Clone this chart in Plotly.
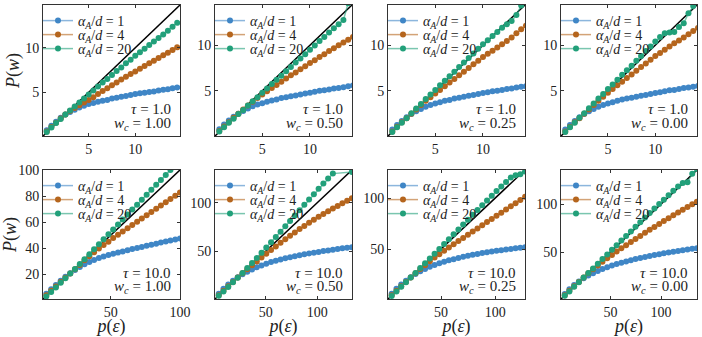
import plotly.graph_objects as go

# p(eps) grids
p_top = [0.5, 1.0, 1.5, 2.0, 2.5, 3.0, 3.5, 4.0, 4.5, 5.0, 5.5, 6.0, 6.5, 7.0, 7.5,
         8.0, 8.5, 9.0, 9.5, 10.0, 10.5, 11.0, 11.5, 12.0, 12.5, 13.0, 13.5, 14.0, 14.5]
p_b1 = [3.4, 6.9, 10.3, 13.8, 17.2, 20.7, 24.1, 27.6, 31.0, 34.5, 37.9, 41.4, 44.8, 48.3, 51.7,
        55.2, 58.6, 62.1, 65.5, 69.0, 72.4, 75.9, 79.3, 82.8, 86.2, 89.7, 93.1, 96.6, 100.0]
p_b2 = [4.6, 9.2, 13.8, 18.4, 23.0, 27.6, 32.2, 36.8, 41.4, 46.0, 50.6, 55.2, 59.8, 64.4, 69.0,
        73.6, 78.2, 82.8, 87.4, 92.0, 96.6, 101.2, 105.8, 110.4, 115.0, 119.6, 124.2, 128.8, 133.4]
p_b3 = [4.4, 8.8, 13.2, 17.6, 22.0, 26.4, 30.8, 35.2, 39.6, 44.0, 48.4, 52.8, 57.2, 61.6, 66.0,
        70.4, 74.8, 79.2, 83.6, 88.0, 92.4, 96.8, 101.2, 105.6, 110.0, 114.4, 118.8, 123.2, 127.6]
p_b4 = [4.7, 9.3, 14.0, 18.7, 23.4, 28.0, 32.7, 37.4, 42.0, 46.7, 51.4, 56.0, 60.7, 65.4, 70.1,
        74.7, 79.4, 84.1, 88.7, 93.4, 98.1, 102.7, 107.4, 112.1, 116.8, 121.4, 126.1, 130.8, 135.4]

# tau = 1.0
t1_a1 = [0.75, 1.25, 1.7, 2.15, 2.5, 2.8, 3.05, 3.3, 3.5, 3.7, 3.8, 3.95, 4.05, 4.15, 4.3,
         4.4, 4.5, 4.6, 4.7, 4.8, 4.9, 4.95, 5.05, 5.1, 5.2, 5.3, 5.35, 5.45, 5.55]
t1_a4 = [0.6, 1.1, 1.6, 2.05, 2.5, 2.9, 3.25, 3.55, 3.85, 4.15, 4.45, 4.8, 5.15, 5.45, 5.8,
         6.1, 6.45, 6.75, 7.05, 7.35, 7.65, 7.95, 8.25, 8.55, 8.85, 9.15, 9.45, 9.75, 10.05]
t1_a20 = [0.55, 1.05, 1.55, 2.0, 2.5, 2.95, 3.4, 3.85, 4.3, 4.75, 5.2, 5.65, 6.1, 6.5, 6.95,
          7.4, 7.8, 8.25, 8.65, 9.1, 9.5, 9.9, 10.3, 10.7, 11.1, 11.5, 11.9, 12.35, 12.8]

t2_a1 = [0.8, 1.3, 1.75, 2.15, 2.5, 2.8, 3.05, 3.3, 3.5, 3.65, 3.8, 3.95, 4.05, 4.2, 4.3,
         4.4, 4.5, 4.6, 4.7, 4.8, 4.9, 5.0, 5.05, 5.15, 5.25, 5.3, 5.4, 5.5, 5.6]
t2_a4 = [0.6, 1.1, 1.55, 2.05, 2.5, 2.95, 3.4, 3.8, 4.2, 4.6, 4.95, 5.3, 5.65, 6.0, 6.35,
         6.7, 7.0, 7.35, 7.7, 8.05, 8.35, 8.7, 9.0, 9.35, 9.65, 10.0, 10.3, 10.6, 10.9]
t2_a20 = [0.55, 1.0, 1.5, 1.95, 2.45, 2.9, 3.4, 3.85, 4.3, 4.8, 5.25, 5.75, 6.2, 6.65, 7.15,
          7.6, 8.1, 8.55, 9.0, 9.5, 9.95, 10.45, 10.9, 11.4, 11.85, 12.3, 12.75, 14.6, 15.0]

t3_a1 = [0.75, 1.25, 1.7, 2.1, 2.45, 2.75, 3.0, 3.25, 3.45, 3.6, 3.75, 3.9, 4.0, 4.15, 4.25,
         4.35, 4.45, 4.55, 4.65, 4.75, 4.85, 4.95, 5.0, 5.1, 5.2, 5.25, 5.35, 5.45, 5.5]
t3_a4 = [0.55, 1.05, 1.55, 2.0, 2.5, 2.95, 3.45, 3.9, 4.3, 4.7, 5.1, 5.5, 5.9, 6.3, 6.7,
         7.1, 7.5, 7.9, 8.3, 8.7, 9.05, 9.4, 9.75, 10.1, 10.45, 10.85, 11.3, 11.75, 12.15]
t3_a20 = [0.5, 1.0, 1.5, 2.0, 2.55, 3.05, 3.55, 4.1, 4.6, 5.1, 5.6, 6.1, 6.6, 7.1, 7.6,
          8.1, 8.6, 9.1, 9.6, 10.1, 10.55, 11.0, 11.45, 11.9, 12.3, 12.65, 13.3, 14.35, 14.9]

t4_a1 = [0.75, 1.25, 1.7, 2.1, 2.45, 2.75, 3.0, 3.25, 3.45, 3.6, 3.75, 3.9, 4.05, 4.15, 4.25,
         4.35, 4.45, 4.55, 4.65, 4.75, 4.85, 4.95, 5.05, 5.1, 5.2, 5.3, 5.35, 5.45, 5.55]
t4_a4 = [0.55, 1.05, 1.55, 2.0, 2.5, 2.95, 3.45, 3.9, 4.35, 4.8, 5.2, 5.6, 6.0, 6.4, 6.8,
         7.2, 7.6, 8.0, 8.4, 8.8, 9.15, 9.5, 9.85, 10.2, 10.5, 10.85, 11.2, 11.55, 11.9]
t4_a20 = [0.5, 1.0, 1.5, 2.05, 2.55, 3.1, 3.6, 4.15, 4.65, 5.2, 5.7, 6.2, 6.75, 7.25, 7.75,
          8.3, 8.8, 9.35, 9.85, 10.4, 10.9, 11.3, 11.4, 11.45, 12.0, 12.4, 13.5, 14.3, 14.9]

# tau = 10.0
b1_a1 = [5.0, 8.5, 11.8, 15.0, 18.0, 20.8, 23.3, 25.6, 27.6, 29.4, 31.0, 32.4, 33.6, 34.8, 35.7,
         36.6, 37.5, 38.4, 39.3, 40.1, 40.9, 41.8, 42.6, 43.4, 44.3, 45.1, 45.9, 46.7, 47.5]
b1_a4 = [3.8, 7.3, 10.6, 14.0, 17.3, 20.6, 23.9, 27.0, 30.8, 33.9, 36.9, 39.7, 42.4, 45.0, 47.8,
         50.3, 52.8, 55.3, 57.8, 60.3, 62.8, 65.3, 67.8, 70.3, 72.8, 75.3, 77.8, 80.3, 82.8]
b1_a20 = [3.0, 6.4, 9.9, 13.4, 16.9, 20.5, 24.1, 27.8, 31.6, 35.4, 39.2, 43.0, 46.8, 50.6, 54.4,
          58.2, 62.0, 65.8, 69.6, 73.4, 77.2, 81.0, 84.8, 88.6, 92.4, 96.2, 100.0, 103.8, 107.6]

b2_a1 = [6.5, 11.5, 15.8, 19.7, 23.3, 26.3, 29.0, 31.4, 33.6, 35.5, 37.3, 38.9, 40.3, 41.6, 42.8,
         43.9, 45.0, 46.0, 46.9, 47.8, 48.6, 49.4, 50.2, 50.9, 51.6, 52.3, 53.0, 53.6, 54.2]
b2_a4 = [4.8, 9.4, 14.0, 18.5, 23.0, 27.4, 31.6, 35.6, 39.6, 43.6, 47.5, 51.3, 55.0, 58.7, 62.3,
         65.9, 69.4, 72.8, 76.1, 79.3, 82.4, 85.4, 88.3, 91.1, 93.9, 96.6, 99.3, 101.9, 104.4]
b2_a20 = [4.3, 8.8, 13.4, 18.1, 22.9, 27.8, 32.8, 37.9, 43.1, 48.4, 53.8, 59.2, 64.7, 70.2, 75.7,
          81.2, 86.7, 92.2, 97.7, 103.2, 108.7, 114.2, 119.7, 124.8, 129.8, None, None, None, 131.5]

b3_a1 = [6.2, 11.0, 15.2, 19.0, 22.4, 25.4, 28.1, 30.5, 32.6, 34.4, 36.0, 37.5, 38.9, 40.1, 41.3,
         42.4, 43.4, 44.3, 45.2, 46.0, 46.8, 47.5, 48.2, 48.9, 49.5, 50.1, 50.7, 51.2, 51.7]
b3_a4 = [4.6, 9.0, 13.4, 17.7, 22.0, 26.2, 30.3, 34.2, 38.0, 41.6, 45.0, 48.3, 51.5, 54.7, 57.8,
         60.9, 64.0, 67.1, 70.2, 73.3, 76.4, 79.5, 82.6, 85.7, 88.8, 91.9, 95.0, 98.1, 101.2]
b3_a20 = [4.0, 8.4, 12.9, 17.4, 22.0, 26.6, 31.3, 36.0, 40.7, 45.4, 50.1, 54.9, 59.6, 64.4, 69.2,
          74.0, 78.8, 83.5, 88.2, 92.9, 97.6, 102.2, 106.8, 111.3, 115.8, 120.2, 122.4, 123.3, 126.0]

b4_a1 = [6.3, 11.2, 15.5, 19.3, 22.6, 25.4, 27.9, 30.2, 32.3, 34.2, 35.9, 37.4, 38.8, 40.1, 41.4,
         42.6, 43.7, 44.8, 45.8, 46.8, 47.7, 48.6, 49.5, 50.3, 51.1, 51.9, 52.6, 53.3, 54.0]
b4_a4 = [4.9, 9.5, 14.2, 18.8, 23.4, 27.8, 32.0, 36.0, 39.8, 43.5, 47.0, 50.4, 53.8, 57.1, 60.4,
         63.6, 66.8, 70.0, 73.1, 76.2, 79.3, 82.3, 85.3, 88.3, 91.2, 94.1, 97.0, 99.8, 102.5]
b4_a20 = [4.3, 8.9, 13.7, 18.5, 23.3, 28.1, 32.9, 37.8, 42.6, 47.5, 52.3, 57.1, 61.9, 66.7, 71.5,
          76.3, 81.1, 85.9, 90.6, 95.3, 100.0, 104.6, 109.2, 113.8, 118.3, 122.0, 122.8, 131.5, 136.5]

tau_labels = ["1.0", "1.0", "1.0", "1.0", "10.0", "10.0", "10.0", "10.0"]
wc_labels = ["1.00", "0.50", "0.25", "0.00", "1.00", "0.50", "0.25", "0.00"]
alpha_labels = ["1", "4", "20"]

panels = [
    (p_top, t1_a1, t1_a4, t1_a20), (p_top, t2_a1, t2_a4, t2_a20),
    (p_top, t3_a1, t3_a4, t3_a20), (p_top, t4_a1, t4_a4, t4_a20),
    (p_b1, b1_a1, b1_a4, b1_a20), (p_b2, b2_a1, b2_a4, b2_a20),
    (p_b3, b3_a1, b3_a4, b3_a20), (p_b4, b4_a1, b4_a4, b4_a20),
]
lims = [(0.1, 14.8), (0.05, 14.4), (0.05, 14.4), (0.05, 14.4),
        (1, 100), (1, 133.5), (1, 127.5), (1, 135.5)]
xticks = [[5, 10]] * 4 + [[50, 100]] * 4
yticks = [[5, 10]] * 4 + [[20, 40, 60, 80, 100], [50, 100], [50, 100], [50, 100]]

W, H = 702, 337
xdoms = [(43, 180), (215, 352), (388, 525), (561, 697)]
ydoms = [(5, 136), (170, 299)]

colors = ["#3f86c6", "#b5651d", "#22a07a"]
lcolors = ["rgba(63,134,198,0.6)", "rgba(181,101,29,0.6)", "rgba(34,160,122,0.6)"]
FONT = "Liberation Serif"

fig = go.Figure()
layout = dict(width=W, height=H, margin=dict(l=0, r=0, t=0, b=0, autoexpand=False),
              plot_bgcolor="white", paper_bgcolor="white",
              font=dict(family=FONT, size=14, color="#222"), annotations=[])

for i, (px, s1, s4, s20) in enumerate(panels):
    n = "" if i == 0 else str(i + 1)
    row, col = i // 4, i % 4
    x0, x1 = xdoms[col]
    y0, y1 = ydoms[row]
    xd = [x0 / W, x1 / W]
    yd = [1 - y1 / H, 1 - y0 / H]
    lo, hi = lims[i]

    fig.add_trace(go.Scatter(x=[lo, hi], y=[lo, hi], mode="lines",
                             line=dict(color="black", width=1.5),
                             showlegend=False, xaxis="x" + n, yaxis="y" + n))
    for k, s in enumerate([s1, s4, s20]):
        li = i * 3 + k + 1
        leg = "legend" if li == 1 else "legend%d" % li
        fig.add_trace(go.Scatter(
            x=px, y=s, mode="lines+markers", connectgaps=True,
            name="<i>α<sub>A</sub></i>/<i>d</i> = " + alpha_labels[k],
            line=dict(color=lcolors[k], width=1.5),
            marker=dict(color=colors[k], size=6),
            legend=leg, xaxis="x" + n, yaxis="y" + n))
        layout[leg] = dict(x=(x0 - 5) / W, y=1 - (y0 + 16 + 14 * k) / H,
                           xanchor="left", yanchor="middle", bgcolor="rgba(0,0,0,0)",
                           font=dict(size=14), itemwidth=30, borderwidth=0)

    ax = dict(domain=xd, range=[lo, hi], tickvals=xticks[i], ticks="inside", ticklen=3,
              tickwidth=1, tickcolor="#333", showline=True, linecolor="#333", linewidth=1,
              mirror="ticks", showgrid=False, zeroline=False, anchor="y" + n,
              automargin=False, tickfont=dict(size=14))
    ay = dict(domain=yd, range=[lo, hi], tickvals=yticks[i], ticks="inside", ticklen=3,
              tickwidth=1, tickcolor="#333", showline=True, linecolor="#333", linewidth=1,
              mirror="ticks", showgrid=False, zeroline=False, anchor="x" + n,
              automargin=False, tickfont=dict(size=14))
    if row == 1:
        ax["title"] = dict(text="<i>p</i>(<i>ε</i>)", font=dict(size=18), standoff=0)
    if col == 0:
        ay["title"] = dict(text="<i>P</i>(<i>w</i>)", font=dict(size=18),
                           standoff=0 if row == 0 else 2)
    layout["xaxis" + n] = ax
    layout["yaxis" + n] = ay

    layout["annotations"] += [
        dict(text="<i>τ</i> = " + tau_labels[i], xref="x" + n + " domain",
             yref="y" + n + " domain", x=1, y=0.205, xanchor="right", yanchor="middle",
             xshift=-7, showarrow=False, font=dict(size=15)),
        dict(text="<i>w<sub>c</sub></i> = " + wc_labels[i], xref="x" + n + " domain",
             yref="y" + n + " domain", x=1, y=0.095, xanchor="right", yanchor="middle",
             xshift=-7, showarrow=False, font=dict(size=15)),
    ]

fig.update_layout(**layout)
fig.write_html("out.html", config={"displayModeBar": False},
               post_script="document.body.style.margin='0';")
